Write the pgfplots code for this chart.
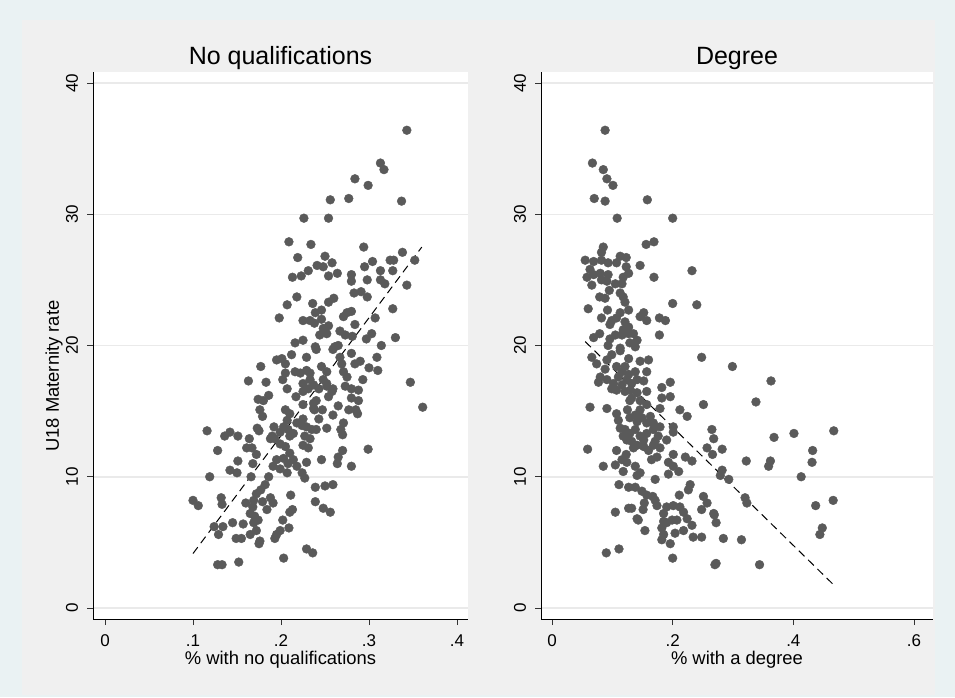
\documentclass[border=0pt]{standalone}
\usepackage{fontspec}
\setmainfont{Liberation Sans}
\usepackage{pgfplots}
\pgfplotsset{compat=1.18}
\definecolor{outerbg}{HTML}{EAF2F3}
\definecolor{innerbg}{HTML}{F0F0F0}
\definecolor{mk}{HTML}{5A5A5A}
\definecolor{gridc}{HTML}{EAEAEA}
\pgfplotsset{
  stata/.style={
    scale only axis, height=547pt,
    axis background/.style={fill=white},
    axis x line*=bottom, axis y line*=left,
    axis line style={-, black, line width=1pt},
    tick align=outside, major tick length=6pt,
    every tick/.style={black!80, line width=0.8pt},
    ymin=-0.838, ymax=40.838,
    ytick={0,10,20,30,40}, yticklabels={0,10,20,30,40},
    ymajorgrids, grid style={gridc, line width=1.5pt},
    tick label style={font=\fontsize{17}{20}\selectfont},
    yticklabel style={rotate=90, anchor=center},
    xticklabel style={anchor=center},
    xticklabel shift=16pt, yticklabel shift=15pt,
    title style={font=\fontsize{25}{30}\selectfont, at={(0.5,1)}, anchor=base, yshift=2pt},
    label style={font=\fontsize{18.4}{22}\selectfont},
    xlabel style={at={(0.5,0)}, anchor=base, yshift=-45pt},
  },
  pts/.style={only marks, mark=*, mark size=4.4pt, color=mk, mark options={draw=mk, fill=mk}},
  fit/.style={black, line width=1pt, dash pattern=on 8pt off 5pt},
}
\begin{document}
\begin{tikzpicture}
\useasboundingbox (0,0) rectangle (955pt,697pt);
\fill[outerbg] (0,0) rectangle (955pt,697pt);
\fill[innerbg] (22pt,2pt) rectangle (935pt,677pt);
\begin{axis}[stata, at={(93pt,78pt)}, anchor=south west, width=375pt,
  xmin=-0.01364, xmax=0.4125,
  xtick={0,0.1,0.2,0.3,0.4}, xticklabels={0,.1,.2,.3,.4},
  title={No qualifications}, xlabel={\% with no qualifications},
  ylabel={U18 Maternity rate},
  ylabel style={at={(axis description cs:-0.104,0.444)}, anchor=center}]
\addplot[pts] table {
x y
0.343 36.4
0.313 33.9
0.317 33.4
0.284 32.7
0.299 32.2
0.256 31.1
0.277 31.2
0.337 31.0
0.226 29.7
0.254 29.7
0.209 27.9
0.234 27.7
0.294 27.5
0.219 26.7
0.250 26.8
0.338 27.1
0.241 26.1
0.248 26.0
0.258 26.3
0.304 26.4
0.295 26.0
0.324 26.5
0.328 26.5
0.352 26.5
0.213 25.2
0.223 25.3
0.231 25.7
0.254 25.3
0.264 25.5
0.280 25.4
0.280 24.9
0.298 25.0
0.313 25.7
0.313 25.0
0.318 24.7
0.327 25.7
0.343 24.6
0.218 23.7
0.207 23.1
0.236 23.2
0.260 23.6
0.254 23.3
0.283 24.0
0.291 24.1
0.298 23.7
0.239 22.5
0.246 22.7
0.198 22.1
0.225 21.9
0.233 21.9
0.238 21.7
0.246 22.0
0.271 22.2
0.275 22.5
0.280 22.6
0.284 21.6
0.307 22.1
0.327 22.8
0.248 21.3
0.254 21.5
0.252 20.9
0.244 20.8
0.267 21.1
0.273 20.8
0.281 20.7
0.297 20.5
0.303 20.9
0.330 20.6
0.216 20.2
0.225 20.4
0.239 19.9
0.261 19.9
0.265 20.0
0.314 20.0
0.240 19.7
0.259 19.7
0.280 19.4
0.309 19.1
0.284 18.6
0.290 18.8
0.300 18.3
0.310 18.1
0.293 17.4
0.347 17.2
0.361 15.3
0.273 16.9
0.280 16.7
0.288 16.6
0.280 16.0
0.288 15.8
0.277 15.1
0.285 15.1
0.287 14.8
0.265 15.4
0.259 14.7
0.271 14.1
0.268 13.6
0.270 13.2
0.270 12.0
0.265 11.5
0.264 11.0
0.280 10.8
0.299 12.1
0.246 11.3
0.229 11.1
0.239 9.2
0.250 9.3
0.259 9.4
0.239 8.1
0.248 7.6
0.256 7.3
0.211 8.6
0.213 7.5
0.210 7.3
0.202 6.7
0.209 6.1
0.199 5.9
0.195 5.6
0.193 5.3
0.176 5.1
0.175 4.9
0.229 4.5
0.236 4.2
0.203 3.8
0.128 3.3
0.133 3.3
0.152 3.5
0.100 8.2
0.106 7.8
0.119 10.0
0.116 13.5
0.128 12.0
0.132 8.4
0.133 7.9
0.124 6.2
0.129 5.6
0.134 6.2
0.145 6.5
0.157 6.4
0.149 5.3
0.155 5.3
0.165 5.6
0.136 13.1
0.142 13.4
0.151 13.1
0.164 12.9
0.142 10.5
0.150 10.3
0.151 11.2
0.161 12.2
0.167 12.2
0.168 11.0
0.172 11.7
0.177 18.4
0.163 17.3
0.183 17.2
0.174 15.9
0.186 16.2
0.180 15.8
0.176 15.1
0.179 14.6
0.173 13.7
0.175 13.5
0.188 12.9
0.190 13.1
0.193 12.9
0.192 13.8
0.199 13.4
0.166 10.0
0.172 8.7
0.169 8.2
0.168 7.7
0.177 9.0
0.182 9.4
0.186 10.0
0.165 7.2
0.170 7.0
0.174 6.7
0.169 6.5
0.172 5.9
0.179 8.1
0.184 7.5
0.188 8.4
0.191 8.0
0.160 8.0
0.205 15.1
0.210 14.8
0.207 14.3
0.203 13.8
0.208 13.6
0.214 13.3
0.210 13.1
0.199 12.5
0.205 12.3
0.210 11.8
0.203 11.4
0.214 11.3
0.208 11.0
0.195 11.3
0.191 10.8
0.199 10.6
0.207 10.3
0.218 10.8
0.224 10.3
0.227 9.9
0.218 14.1
0.224 13.9
0.229 13.8
0.235 13.6
0.240 13.6
0.227 13.1
0.233 12.9
0.225 12.4
0.231 12.2
0.252 13.7
0.225 14.4
0.243 14.4
0.247 15.1
0.238 15.1
0.237 15.6
0.240 15.8
0.243 16.7
0.252 16.9
0.258 16.5
0.254 16.1
0.248 17.4
0.252 17.1
0.259 16.7
0.225 17.1
0.231 16.7
0.237 17.0
0.225 16.5
0.233 17.4
0.217 16.1
0.225 15.5
0.237 15.2
0.202 17.4
0.207 16.7
0.205 17.9
0.195 18.9
0.201 19.0
0.205 18.6
0.212 19.3
0.216 18.0
0.222 17.9
0.229 18.1
0.233 17.9
0.246 18.4
0.252 18.0
0.229 19.1
0.269 18.6
0.271 18.0
0.275 17.6
0.267 19.1
};
\addplot[fit] coordinates {(0.1,4.15) (0.36,27.5)};
\end{axis}
\begin{axis}[stata, at={(541pt,78pt)}, anchor=south west, width=392pt,
  xmin=-0.01823, xmax=0.6315,
  xtick={0,0.2,0.4,0.6}, xticklabels={0,.2,.4,.6},
  title={Degree}, xlabel={\% with a degree}]
\addplot[pts] table {
x y
0.088 36.4
0.067 33.9
0.085 33.4
0.091 32.7
0.101 32.2
0.070 31.2
0.088 31.0
0.158 31.1
0.108 29.7
0.200 29.7
0.085 27.5
0.156 27.7
0.169 27.9
0.082 27.1
0.055 26.5
0.069 26.4
0.082 26.5
0.093 26.3
0.113 26.8
0.123 26.7
0.107 26.3
0.146 26.1
0.232 25.7
0.063 25.8
0.058 25.2
0.069 25.4
0.080 25.5
0.093 25.4
0.082 25.0
0.091 24.9
0.123 26.0
0.127 25.5
0.118 25.2
0.169 25.2
0.066 24.6
0.105 24.7
0.116 24.7
0.095 24.2
0.079 23.7
0.088 23.6
0.113 24.0
0.118 23.7
0.121 23.3
0.060 22.8
0.092 22.7
0.082 22.1
0.113 22.5
0.127 22.7
0.099 21.9
0.107 22.1
0.096 21.6
0.121 21.8
0.127 21.4
0.118 21.2
0.146 22.2
0.152 22.5
0.157 21.9
0.200 23.2
0.240 23.1
0.178 22.1
0.188 21.9
0.178 20.8
0.069 20.6
0.079 20.9
0.096 20.5
0.105 20.8
0.116 20.8
0.127 20.9
0.135 20.9
0.141 20.4
0.093 20.0
0.113 19.8
0.129 20.2
0.138 19.9
0.248 19.1
0.299 18.4
0.363 17.3
0.338 15.7
0.251 15.5
0.063 15.3
0.059 12.1
0.467 13.5
0.401 13.3
0.368 13.0
0.432 12.0
0.431 11.1
0.362 11.2
0.359 10.8
0.322 11.2
0.413 10.0
0.437 7.8
0.466 8.2
0.448 6.1
0.444 5.6
0.344 3.3
0.272 3.4
0.270 3.3
0.314 5.2
0.284 5.3
0.248 5.4
0.234 5.4
0.200 3.8
0.090 4.2
0.111 4.5
0.105 7.3
0.127 7.6
0.143 6.7
0.154 5.9
0.111 9.4
0.127 9.2
0.138 9.2
0.149 8.9
0.157 8.6
0.167 8.5
0.171 8.2
0.153 8.0
0.151 7.5
0.211 8.6
0.229 9.4
0.226 9.0
0.251 8.5
0.257 8.0
0.248 7.5
0.268 7.2
0.272 6.5
0.320 8.4
0.323 8.0
0.190 7.7
0.201 7.8
0.212 7.7
0.218 7.3
0.224 6.8
0.232 6.3
0.185 7.2
0.185 6.6
0.190 6.5
0.199 6.7
0.207 6.7
0.182 6.1
0.185 5.6
0.182 5.2
0.196 4.9
0.204 5.7
0.218 5.9
0.269 7.1
0.282 10.5
0.293 9.8
0.279 10.1
0.265 13.6
0.268 12.9
0.257 12.2
0.266 11.7
0.282 12.1
0.232 11.2
0.221 11.5
0.201 11.7
0.193 11.1
0.201 10.8
0.210 10.4
0.193 10.2
0.171 9.8
0.146 10.3
0.138 10.8
0.141 10.1
0.118 10.4
0.105 10.9
0.085 10.8
0.107 12.0
0.123 11.7
0.116 11.3
0.165 11.3
0.174 11.5
0.179 12.2
0.168 12.4
0.160 12.0
0.152 12.3
0.141 12.4
0.132 12.7
0.135 12.2
0.190 12.8
0.201 13.8
0.212 15.1
0.224 14.6
0.201 13.4
0.182 16.8
0.196 17.2
0.182 16.0
0.196 16.1
0.179 15.2
0.160 18.9
0.157 18.0
0.146 18.8
0.138 18.0
0.141 17.4
0.152 17.3
0.157 16.5
0.127 19.0
0.113 19.6
0.121 18.4
0.127 17.8
0.132 17.1
0.130 16.6
0.066 19.1
0.074 18.6
0.091 18.9
0.099 19.3
0.088 18.2
0.107 18.4
0.116 18.0
0.080 17.6
0.077 17.2
0.091 17.4
0.102 17.1
0.107 16.6
0.099 16.7
0.110 17.6
0.116 17.0
0.124 17.4
0.121 16.5
0.132 16.0
0.141 16.4
0.146 15.8
0.129 15.8
0.157 15.5
0.146 15.1
0.138 14.7
0.149 14.5
0.163 14.6
0.168 14.1
0.157 14.1
0.091 15.2
0.107 14.8
0.110 14.3
0.125 15.1
0.129 14.5
0.141 14.2
0.113 13.7
0.121 13.6
0.118 13.1
0.129 13.3
0.138 13.6
0.146 13.1
0.124 12.8
0.152 12.8
0.157 13.3
0.168 13.6
0.179 13.8
0.176 13.1
0.171 12.7
0.124 11.1
0.132 7.6
0.141 6.8
0.174 7.8
};
\addplot[fit] coordinates {(0.055,20.3) (0.466,1.8)};
\end{axis}
\end{tikzpicture}
\end{document}
